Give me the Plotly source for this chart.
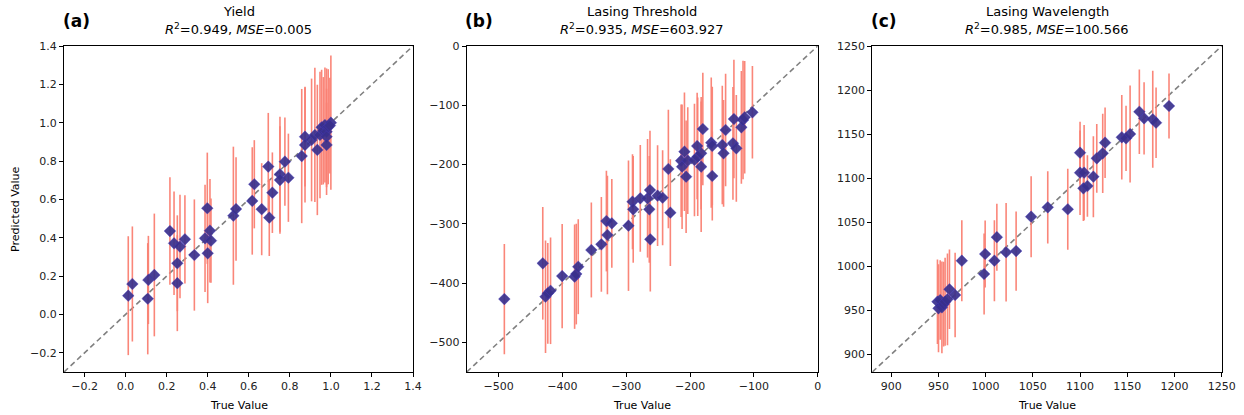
import plotly.graph_objects as go

# ---------------- data ----------------
yield_true = [0.013, 0.033, 0.108, 0.111, 0.140, 0.216, 0.236, 0.252, 0.252, 0.265, 0.289, 0.335,
              0.387, 0.398, 0.400, 0.411, 0.416, 0.525, 0.538, 0.617, 0.627, 0.663, 0.695, 0.700,
              0.715, 0.752, 0.752, 0.776, 0.793, 0.858, 0.874, 0.874, 0.906, 0.922, 0.934, 0.947,
              0.955, 0.963, 0.971, 0.979, 0.979, 0.979, 0.987, 1.000, 0.995]
yield_pred = [0.098, 0.159, 0.082, 0.180, 0.206, 0.435, 0.371, 0.267, 0.163, 0.354, 0.392, 0.310,
              0.397, 0.554, 0.319, 0.437, 0.385, 0.515, 0.550, 0.592, 0.679, 0.549, 0.771, 0.505,
              0.635, 0.731, 0.701, 0.797, 0.713, 0.826, 0.927, 0.884, 0.910, 0.936, 0.858, 0.936,
              0.976, 0.958, 0.988, 0.953, 0.927, 0.884, 0.979, 1.000, 0.985]
yield_err = [0.31, 0.30, 0.29, 0.23, 0.32, 0.28, 0.27, 0.25, 0.25, 0.27, 0.23, 0.29,
             0.28, 0.29, 0.26, 0.27, 0.22, 0.36, 0.27, 0.28, 0.23, 0.24, 0.28, 0.20,
             0.21, 0.30, 0.28, 0.23, 0.23, 0.35, 0.26, 0.30, 0.32, 0.35, 0.34, 0.33,
             0.30, 0.28, 0.30, 0.33, 0.25, 0.22, 0.30, 0.35, 0.25]

thr_true = [-491.0, -430.8, -426.5, -422.9, -418.6, -400.4, -380.9, -378.3, -375.2, -354.7,
            -339.0, -331.1, -329.5, -322.6, -296.5, -290.2, -289.1, -278.0, -266.6, -263.9,
            -262.8, -262.3, -250.9, -243.0, -234.0, -230.9, -214.0, -212.5, -208.8, -206.2,
            -203.6, -193.1, -188.9, -188.0, -182.6, -182.6, -180.0, -166.8, -165.2, -165.2,
            -149.5, -147.5, -144.3, -132.8, -131.3, -127.5, -119.6, -117.0, -114.4, -102.3]
thr_pred = [-426.9, -366.6, -423.0, -417.2, -412.9, -388.1, -389.2, -384.7, -372.4, -344.2,
            -334.6, -295.3, -318.9, -299.2, -303.2, -262.7, -275.6, -257.0, -257.0, -275.6,
            -243.0, -326.2, -252.6, -256.0, -207.5, -281.2, -193.5, -203.6, -178.3, -220.5,
            -193.5, -192.3, -168.7, -186.8, -203.6, -181.0, -140.0, -163.1, -168.7, -219.3,
            -167.0, -181.0, -141.7, -164.2, -123.2, -172.6, -137.2, -124.9, -120.3, -111.9]
thr_err = [93, 95, 95, 85, 90, 88, 88, 85, 80, 80,
           80, 85, 100, 75, 110, 80, 90, 90, 100, 90,
           100, 88, 85, 80, 100, 90, 95, 105, 100, 95,
           90, 95, 90, 100, 110, 95, 95, 110, 100, 75,
           100, 90, 95, 95, 100, 90, 95, 100, 95, 78]

wl_true = [949.0, 950.1, 951.9, 953.7, 955.5, 957.1, 959.6, 961.7, 967.7, 974.8,
           998.4, 999.5, 1009.3, 1011.9, 1021.7, 1032.3, 1048.2, 1065.8, 1087.0, 1100.0,
           1100.0, 1103.5, 1104.3, 1107.8, 1114.1, 1117.7, 1124.0, 1126.5, 1144.2, 1148.7,
           1153.0, 1162.8, 1167.8, 1177.0, 1180.5, 1194.2]
wl_pred = [959.8, 952.3, 961.7, 953.4, 957.0, 959.8, 962.5, 973.9, 967.4, 1006.3,
           991.2, 1013.9, 1006.3, 1033.0, 1015.9, 1017.3, 1056.3, 1066.9, 1064.7, 1106.2,
           1128.9, 1088.5, 1106.2, 1091.1, 1101.7, 1122.5, 1128.2, 1140.3, 1146.4, 1145.2,
           1150.1, 1175.4, 1167.9, 1166.8, 1162.9, 1181.9]
wl_err = [48, 50, 45, 52, 48, 50, 52, 45, 48, 46,
          46, 38, 46, 38, 56, 45, 46, 41, 46, 48,
          35, 37, 54, 35, 46, 39, 45, 40, 48, 37,
          55, 48, 41, 55, 40, 37]

panel_titles = ["Yield", "Lasing Threshold", "Lasing Wavelength"]
panel_stats = [("0.949", "0.005"), ("0.935", "603.927"), ("0.985", "100.566")]
panel_tags = ["(a)", "(b)", "(c)"]
ranges = [(-0.3, 1.4), (-550, 0), (880, 1250)]
tick_vals = [[-0.2, 0.0, 0.2, 0.4, 0.6, 0.8, 1.0, 1.2, 1.4],
             [-500, -400, -300, -200, -100, 0],
             [900, 950, 1000, 1050, 1100, 1150, 1200, 1250]]
tick_fmt = [".1f", "d", "d"]

# ---------------- layout geometry (pixels) ----------------
W, H = 1244, 415
x_px = [(64, 413), (466.7, 817.7), (872.3, 1221.7)]
y_px = (46, 372)

series = [(yield_true, yield_pred, yield_err),
          (thr_true, thr_pred, thr_err),
          (wl_true, wl_pred, wl_err)]

fig = go.Figure()
font_family = "DejaVu Sans"

annotations = []
layout_axes = {}
for i in range(3):
    sfx = "" if i == 0 else str(i + 1)
    xa, ya = "x" + sfx, "y" + sfx
    lo, hi = ranges[i]
    # diagonal y = x
    fig.add_trace(go.Scatter(x=[lo, hi], y=[lo, hi], mode="lines",
                             line=dict(color="#808080", width=1.6, dash="5.5px,3.5px"),
                             xaxis=xa, yaxis=ya, showlegend=False, hoverinfo="skip"))
    t, p, e = series[i]
    fig.add_trace(go.Scatter(
        x=t, y=p, mode="markers", xaxis=xa, yaxis=ya, showlegend=False,
        marker=dict(symbol="diamond", size=9, color="rgba(56,48,140,0.92)",
                    line=dict(color="rgba(70,60,200,0.6)", width=0.6)),
        error_y=dict(type="data", array=e, visible=True, color="rgba(250,128,114,0.95)",
                     thickness=1.6, width=0)))
    common = dict(range=[lo, hi], showgrid=False, zeroline=False, showline=True,
                  linecolor="black", linewidth=1, mirror=True, ticks="outside",
                  ticklen=4, tickwidth=1, tickcolor="black", tickvals=tick_vals[i],
                  tickformat=tick_fmt[i], automargin=False,
                  tickfont=dict(family=font_family, size=11, color="#222"))
    layout_axes["xaxis" + sfx] = dict(common, domain=[x_px[i][0] / W, x_px[i][1] / W],
                                      anchor=ya)
    layout_axes["yaxis" + sfx] = dict(common, domain=[1 - y_px[1] / H, 1 - y_px[0] / H],
                                      anchor=xa)
    cx = (x_px[i][0] + x_px[i][1]) / 2 / W
    r2, mse = panel_stats[i]
    annotations.append(dict(x=cx, y=1 - 11 / H, xref="paper", yref="paper",
                            text=panel_titles[i], showarrow=False,
                            font=dict(family=font_family, size=13, color="black"),
                            xanchor="center", yanchor="middle"))
    annotations.append(dict(x=cx, y=1 - 29 / H, xref="paper", yref="paper",
                            text=f"<i>R</i><sup>2</sup>={r2}, <i>MSE</i>={mse}",
                            showarrow=False,
                            font=dict(family=font_family, size=13, color="black"),
                            xanchor="center", yanchor="middle"))
    annotations.append(dict(x=(x_px[i][0] + 12) / W, y=1 - 21 / H, xref="paper", yref="paper",
                            text=f"<b>{panel_tags[i]}</b>", showarrow=False,
                            font=dict(family=font_family, size=17, color="black"),
                            xanchor="center", yanchor="middle"))
    annotations.append(dict(x=cx, y=1 - 405 / H, xref="paper", yref="paper",
                            text="True Value", showarrow=False,
                            font=dict(family=font_family, size=11, color="black"),
                            xanchor="center", yanchor="middle"))

annotations.append(dict(x=15 / W, y=1 - 209 / H, xref="paper", yref="paper",
                        text="Predicted Value", showarrow=False, textangle=-90,
                        font=dict(family=font_family, size=11, color="black"),
                        xanchor="center", yanchor="middle"))

fig.update_layout(template="none", width=W, height=H, margin=dict(l=0, r=0, t=0, b=0, pad=0),
                  paper_bgcolor="white", plot_bgcolor="white",
                  annotations=annotations, **layout_axes)

fig.write_html("out.html", config={"displayModeBar": False},
               post_script="document.body.style.margin='0';document.body.style.overflow='hidden';")
